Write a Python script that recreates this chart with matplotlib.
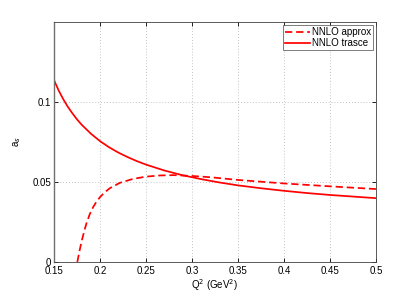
import matplotlib
matplotlib.use("Agg")
import matplotlib.pyplot as plt

# values
q2_trasce = [0.15, 0.155, 0.16, 0.165, 0.17, 0.175, 0.18, 0.19, 0.20, 0.21,
             0.22, 0.23, 0.24, 0.25, 0.27, 0.29, 0.31, 0.33, 0.35, 0.375,
             0.40, 0.425, 0.45, 0.475, 0.50]
as_trasce = [0.1138, 0.1074, 0.1019, 0.0971, 0.0930, 0.0892, 0.0859, 0.0803,
             0.0756, 0.0717, 0.0684, 0.0656, 0.0631, 0.0609, 0.0572, 0.0542,
             0.0518, 0.0497, 0.0479, 0.0461, 0.0445, 0.0431, 0.0419, 0.0409,
             0.0399]

q2_approx = [0.1754, 0.178, 0.1801, 0.183, 0.1855, 0.189, 0.1928, 0.196,
             0.20, 0.205, 0.2109, 0.2217, 0.2362, 0.2507, 0.2652, 0.28, 0.30,
             0.32, 0.35, 0.40, 0.45, 0.50]
as_approx = [0.0, 0.0075, 0.0130, 0.0195, 0.0245, 0.0300, 0.0345, 0.0375,
             0.0405, 0.0435, 0.0462, 0.0495, 0.0520, 0.0534, 0.0541, 0.0543,
             0.0538, 0.0530, 0.0513, 0.0491, 0.0473, 0.0456]

xticks = [0.15, 0.2, 0.25, 0.3, 0.35, 0.4, 0.45, 0.5]
xticklabels = ["0.15", "0.2", "0.25", "0.3", "0.35", "0.4", "0.45", "0.5"]
yticks = [0, 0.05, 0.1]
yticklabels = ["0", "0.05", "0.1"]

plt.rcParams["font.family"] = ["Liberation Sans", "DejaVu Sans"]
plt.rcParams["font.size"] = 7

fig = plt.figure(figsize=(4.15, 2.95), dpi=100)
ax = fig.add_axes([0.130, 0.112, 0.776, 0.813])

ax.plot(q2_approx, as_approx, color="red", linestyle=(0, (4.2, 2.2)),
        linewidth=1.25, label="NNLO approx")
ax.plot(q2_trasce, as_trasce, color="red", linewidth=1.25, label="NNLO trasce")

ax.set_xlim(0.15, 0.5)
ax.set_ylim(0, 0.15)
ax.set_xticks(xticks)
ax.set_xticklabels(xticklabels)
ax.set_yticks(yticks)
ax.set_yticklabels(yticklabels)
ax.tick_params(direction="in", top=True, right=True, length=3, width=0.6,
               labelsize=7)
ax.tick_params(axis="x", pad=3)
ax.tick_params(axis="y", pad=2)
ax.grid(True, linestyle=(0, (1, 2.5)), color="#b0b0b0", linewidth=0.6)
for side in ax.spines.values():
    side.set_linewidth(0.6)
    side.set_color("#404040")
ax.spines["left"].set_linewidth(1.0)
ax.spines["left"].set_color("#707070")

ax.set_xlabel("Q$^2$ (GeV$^2$)", fontsize=7, labelpad=1)
ax.set_ylabel("a$_s$", fontsize=7)
ax.yaxis.set_label_coords(-0.096, 0.5)

leg = ax.legend(loc="upper right", fontsize=7, frameon=True, fancybox=False,
                borderpad=0.2, handlelength=2.6, handletextpad=0.2,
                labelspacing=0.15, borderaxespad=0.3)
leg.get_frame().set_edgecolor("#404040")
leg.get_frame().set_linewidth(0.6)

fig.savefig("out.png", dpi=100)
